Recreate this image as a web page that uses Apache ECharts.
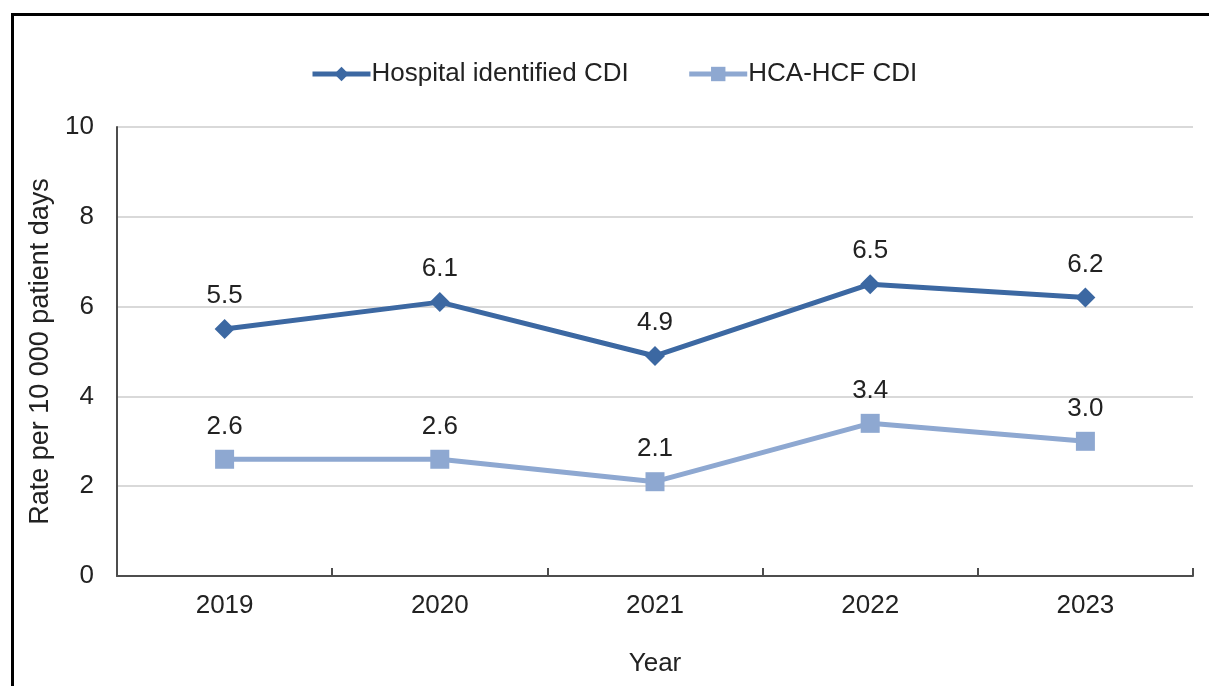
<!DOCTYPE html>
<html>
<head>
<meta charset="utf-8">
<script src="https://cdn.jsdelivr.net/npm/echarts@6/dist/echarts.min.js"></script>
<style>
  html, body { margin: 0; padding: 0; background: #fff; }
  #chart { width: 1209px; height: 686px; }
</style>
</head>
<body>
<div id="chart"></div>
<script>
// Clostridioides difficile infection rates per 10 000 patient days
const years = ['2019', '2020', '2021', '2022', '2023'];
const hospitalIdentified = [5.5, 6.1, 4.9, 6.5, 6.2];
const hcaHcf = [2.6, 2.6, 2.1, 3.4, 3.0];
const seriesNames = ['Hospital identified CDI', 'HCA-HCF CDI'];

const FONT = '"Liberation Sans", Arial, sans-serif';
const TEXT = '#222222';
const DARK = '#3C68A2';
const LIGHT = '#8EA8D1';

const chart = echarts.init(document.getElementById('chart'), null, { renderer: 'canvas' });

const labelStyle = {
  show: true,
  position: 'top',
  distance: 10,
  fontFamily: FONT,
  fontSize: 26,
  color: TEXT,
  formatter: p => p.value.toFixed(1)
};

chart.setOption({
  backgroundColor: '#ffffff',
  animation: false,
  textStyle: { fontFamily: FONT, color: TEXT },
  graphic: [
    { type: 'line', shape: { x1: 12, y1: 14.5, x2: 1209, y2: 14.5 }, style: { stroke: '#000', lineWidth: 3 } },
    { type: 'line', shape: { x1: 12.5, y1: 13, x2: 12.5, y2: 686 }, style: { stroke: '#000', lineWidth: 3 } }
  ],
  legend: {
    left: 305,
    top: 56,
    itemWidth: 58,
    itemHeight: 18,
    itemGap: 58,
    lineStyle: { width: 5 },
    textStyle: { fontFamily: FONT, fontSize: 26, color: TEXT, padding: [0, 0, 0, -4] },
    data: seriesNames
  },
  grid: { left: 117, right: 16, top: 127, bottom: 110, containLabel: false },
  xAxis: {
    type: 'category',
    data: years,
    boundaryGap: true,
    name: 'Year',
    nameLocation: 'middle',
    nameGap: 75,
    nameTextStyle: { fontFamily: FONT, fontSize: 26, color: TEXT },
    axisLine: { lineStyle: { color: '#4d4d4d', width: 2 } },
    axisTick: { show: true, inside: true, length: 8, lineStyle: { color: '#4d4d4d', width: 2 } },
    axisLabel: { fontFamily: FONT, fontSize: 26, color: TEXT, margin: 17 }
  },
  yAxis: {
    type: 'value',
    min: 0,
    max: 10,
    interval: 2,
    name: 'Rate per 10 000 patient days',
    nameLocation: 'middle',
    nameGap: 62,
    nameTextStyle: { fontFamily: FONT, fontSize: 27, color: TEXT },
    axisLine: { show: true, lineStyle: { color: '#4d4d4d', width: 2 } },
    axisTick: { show: false },
    axisLabel: { fontFamily: FONT, fontSize: 26, color: TEXT, margin: 23 },
    splitLine: { show: true, lineStyle: { color: '#d9d9d9', width: 2 } }
  },
  series: [
    {
      name: seriesNames[0],
      type: 'line',
      data: hospitalIdentified,
      symbol: 'diamond',
      symbolSize: [20, 20],
      showAllSymbol: true,
      color: DARK,
      lineStyle: { color: DARK, width: 5 },
      itemStyle: { color: DARK },
      label: labelStyle,
      z: 3
    },
    {
      name: seriesNames[1],
      type: 'line',
      data: hcaHcf,
      symbol: 'rect',
      symbolSize: 19,
      showAllSymbol: true,
      color: LIGHT,
      lineStyle: { color: LIGHT, width: 5 },
      itemStyle: { color: LIGHT },
      label: labelStyle,
      z: 2
    }
  ]
});
</script>
</body>
</html>
